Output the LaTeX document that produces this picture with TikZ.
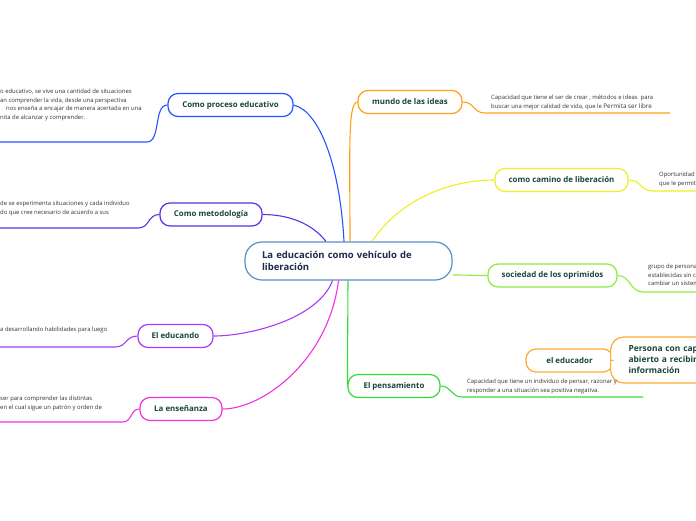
\documentclass[tikz,border=0pt]{standalone}
\usepackage{fontspec}
\setmainfont{Open Sans}
\definecolor{cproc}{HTML}{2255FF}
\definecolor{cmet}{HTML}{5A30E0}
\definecolor{ceducando}{HTML}{A83CF0}
\definecolor{censen}{HTML}{F032E0}
\definecolor{cmundo}{HTML}{FF9F1A}
\definecolor{ccamino}{HTML}{EEEE22}
\definecolor{csoc}{HTML}{8DEB3C}
\definecolor{cpens}{HTML}{36DC36}
\definecolor{ceducador}{HTML}{FFAA33}
\definecolor{rootline}{HTML}{5A8FC4}
\definecolor{roottext}{HTML}{1C2B4B}
\definecolor{labtext}{HTML}{17453A}
\definecolor{notetext}{HTML}{333333}

\begin{document}
\begin{tikzpicture}[x=1pt,y=-1pt,
    topic/.style={draw,fill=white,rounded corners=10pt,line width=1.2pt,minimum height=23pt,
      inner xsep=4pt,text=labtext,font=\fontsize{7.9}{9}\selectfont\bfseries},
    root node/.style={draw=rootline,fill=white,rounded corners=17pt,line width=1.2pt,
      minimum height=38pt,inner xsep=17pt,text width=173pt,align=left,text=roottext,
      font=\fontsize{9.5}{12.5}\selectfont\bfseries},
    note/.style={anchor=north west,inner sep=0pt,align=left,text=notetext,
      font=\fontsize{5.9}{8.6}\selectfont},
    link/.style={line width=1.1pt}]
  \useasboundingbox (0,0) rectangle (696,520);
  \clip (0,0) rectangle (696,520);

  % central topic
  \node[root node] (root) at (348.5,261) {La educación como vehículo de\\liberación};

  % left branches
  \node[topic,draw=cproc,minimum width=125pt] (proc) at (230.5,105) {Como proceso educativo};
  \node[topic,draw=cmet,minimum width=102pt] (metod) at (211,214.5) {Como metodología};
  \node[topic,draw=ceducando,minimum width=75pt] (educando) at (175.5,336) {El educando};
  \node[topic,draw=censen,minimum width=82pt] (ensen) at (181,409) {La enseñanza};

  % right branches
  \node[topic,draw=cmundo,minimum width=104pt] (mundo) at (410,102) {mundo de las ideas};
  \node[topic,draw=ccamino,minimum width=133pt] (camino) at (561.5,180) {como camino de liberación};
  \node[topic,draw=csoc,minimum width=129pt] (socied) at (552.5,275.5) {sociedad de los oprimidos};
  \node[topic,draw=cpens,minimum width=92pt] (pensam) at (394,386) {El pensamiento};
  \node[topic,draw=ceducador,minimum width=87pt] (educador) at (569.5,360.5) {el educador};
  \node[topic,draw=ceducador,anchor=west,rounded corners=13pt,minimum width=130pt,minimum height=46pt,
    inner xsep=18pt,text width=110pt,align=left,font=\fontsize{8.4}{11}\selectfont\bfseries]
    (persona) at (610,360) {Persona con capa\\abierto a recibir t\\información};

  % notes
  \node[note] (proc-note) at (0,89) {o educativo, se vive una cantidad de situaciones\\an comprender la vida, desde una perspectiva\\\hspace*{6pt}nos enseña a encajar de manera acertada en una\\nita de alcanzar y comprender.};
  \node[note] (metod-note) at (0,201) {de se experimenta situaciones y cada individuo\\do que cree necesario de acuerdo a sus};
  \node[note] (educando-note) at (0,327) {a desarrollando habilidades para luego};
  \node[note] (ensen-note) at (0,396) {ser para comprender las distintas\\en el cual sigue un patrón y orden de};
  \node[note] (mundo-note) at (491,95) {Capacidad que tiene el ser de crear , métodos e ideas\ \ para\\buscar una mejor calidad de vida, que le {\fontsize{6.3}{8.6}\selectfont Permita ser libre}};
  \node[note] (camino-note) at (659,172) {Oportunidad\\que le permit};
  \node[note] (socied-note) at (648,264) {grupo de persona\\establecidas sin c\\cambiar un sistem};
  \node[note] (pensam-note) at (467,379) {Capacidad que tiene un individuo de pensar, razonar y\\responder a una situación sea positiva negativa.};

  % underline ends
  \coordinate (proc-a) at (147,142);   \coordinate (proc-b) at (0,142);
  \coordinate (metod-a) at (138,228);  \coordinate (metod-b) at (0,228);
  \coordinate (educando-a) at (115,347); \coordinate (educando-b) at (0,347);
  \coordinate (ensen-a) at (123,422);  \coordinate (ensen-b) at (0,422);
  \coordinate (mundo-a) at (485,113);  \coordinate (mundo-b) at (670,113);
  \coordinate (camino-a) at (653,191); \coordinate (camino-b) at (696,191);
  \coordinate (socied-a) at (643,292); \coordinate (socied-b) at (696,292);
  \coordinate (pensam-a) at (462,397); \coordinate (pensam-b) at (643,397);

  % branches from the central topic
  \draw[link,cproc] ([xshift=-4.5pt]root.north) .. controls +(-4,-75) and +(26,6) .. (proc.east);
  \draw[link,cmet] ([xshift=-22.5pt]root.north) .. controls +(-14,-18) and +(26,0) .. (metod.east);
  \draw[link,ceducando] ([xshift=-16pt]root.south) .. controls +(-14,38) and +(36,0) .. (educando.east);
  \draw[link,censen] ([xshift=-10pt]root.south) .. controls +(-10,80) and +(40,0) .. (ensen.east);
  \draw[link,cmundo] ([xshift=1.5pt]root.north) .. controls +(0,-85) and +(-10,0) .. (mundo.west);
  \draw[link,ccamino] ([xshift=23.5pt]root.north) .. controls +(28,-42) and +(-45,0) .. (camino.west);
  \draw[link,csoc] ([yshift=-14pt]root.east) .. controls +(16,0) and +(-16,0) .. (socied.west);
  \draw[link,cpens] ([xshift=-0.5pt]root.south) -- (pensam.west);
  \draw[link,ceducador] (educador.east) -- (persona.west);

  % links to the notes
  \draw[link,cproc] (proc.west) .. controls +(-14,0) and +(14,0) .. (proc-a) -- (proc-b);
  \draw[link,cmet] (metod.west) .. controls +(-12,0) and +(12,0) .. (metod-a) -- (metod-b);
  \draw[link,ceducando] (educando.west) .. controls +(-12,0) and +(12,0) .. (educando-a) -- (educando-b);
  \draw[link,censen] (ensen.west) .. controls +(-9,0) and +(9,0) .. (ensen-a) -- (ensen-b);
  \draw[link,cmundo] (mundo.east) .. controls +(12,0) and +(-12,0) .. (mundo-a) -- (mundo-b);
  \draw[link,ccamino] (camino.east) .. controls +(13,0) and +(-13,0) .. (camino-a) -- (camino-b);
  \draw[link,csoc] (socied.east) .. controls +(13,0) and +(-13,0) .. (socied-a) -- (socied-b);
  \draw[link,cpens] (pensam.east) .. controls +(11,0) and +(-11,0) .. (pensam-a) -- (pensam-b);
\end{tikzpicture}
\end{document}
